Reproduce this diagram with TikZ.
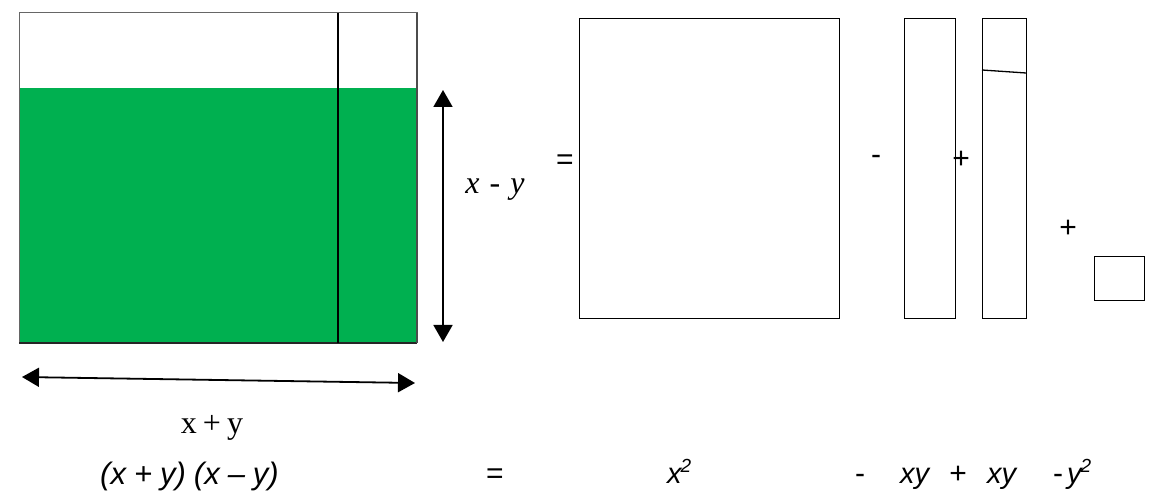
\documentclass[tikz,border=0pt]{standalone}
\usepackage{fontspec}
\setmainfont{Liberation Serif}
\setsansfont{Liberation Sans}
\usetikzlibrary{arrows.meta}
\definecolor{xlgreen}{RGB}{0,176,80}
\newcommand{\wsp}{\hspace{8pt}}
\newcommand{\sqd}{\hspace{-1pt}\raisebox{11pt}{\fontsize{19}{19}\selectfont 2}}
\begin{document}
\begin{tikzpicture}[x=1pt,y=-1pt,
  box/.style={draw=black,line width=1.3pt,inner sep=0pt,anchor=north west},
  dimarrow/.style={{Triangle[length=17pt,width=19pt]}-{Triangle[length=17pt,width=19pt]},line width=1.8pt},
  op/.style={font=\sffamily\fontsize{30}{32}\selectfont,inner sep=0pt},
  eq/.style={font=\sffamily\itshape\fontsize{29}{30}\selectfont,inner sep=0pt,anchor=base west},
  lbl/.style={font=\fontsize{32}{34}\selectfont,inner sep=0pt}]
\useasboundingbox (0,0) rectangle (1149,494);
% left rectangle
\fill[xlgreen] (19,88) rectangle (417,343);
\draw[black!60,line width=1pt] (19,13) rectangle (417,343);
\draw[black!85,line width=1.3pt] (19,343) -- (417,343);
\draw[black!70,line width=1.3pt] (417,13) -- (417,343);
\draw[black,line width=1.2pt] (338,13) -- (338,343);
% dimension arrows
\coordinate (vt) at (443,90);
\coordinate (vb) at (443,342);
\draw[dimarrow] (vt) -- (vb);
\coordinate (hl) at (22,377);
\coordinate (hr) at (415,383);
\draw[dimarrow] (hl) -- (hr);
\node[lbl,font=\itshape\fontsize{32}{34}\selectfont] (lxy) at (495,190) {x\hspace{10pt}-\hspace{10pt}y};
\node[lbl] (lpy) at (212,428) {x\hspace{6pt}+\hspace{6pt}y};
% right shapes
\node[box,minimum width=260pt,minimum height=300pt] (sqx) at (579,18) {};
\node[box,minimum width=51pt,minimum height=300pt] (r2) at (904,18) {};
\node[box,minimum width=44pt,minimum height=300pt] (r3) at (982,18) {};
\coordinate (r3a) at (982,70);
\coordinate (r3b) at (1026,73);
\draw[line width=1.3pt] (r3a) -- (r3b);
\node[box,minimum width=50pt,minimum height=44pt] (sqy) at (1094,256) {};
\node[op] (o1) at (565,162) {=};
\node[op] (o2) at (876,160) {-};
\node[op] (o3) at (961,160) {+};
\node[op] (o4) at (1068,229) {+};
% bottom equation
\node[eq,font=\sffamily\itshape\fontsize{31}{32}\selectfont] (e1) at (100,484) {(x\wsp+\wsp y)\wsp(x\wsp--\wsp y)};
\node[op,anchor=base] (e2) at (495,483) {=};
\node[eq] (e3) at (667,483) {x\sqd};
\node[op,anchor=base] (e4) at (860,483) {-};
\node[eq] (e5) at (900,483) {xy};
\node[op,anchor=base] (e6) at (958,483) {+};
\node[eq] (e7) at (987,483) {xy};
\node[op,anchor=base] (e8) at (1058,483) {-};
\node[eq] (e9) at (1067,483) {y\sqd};
\end{tikzpicture}
\end{document}
